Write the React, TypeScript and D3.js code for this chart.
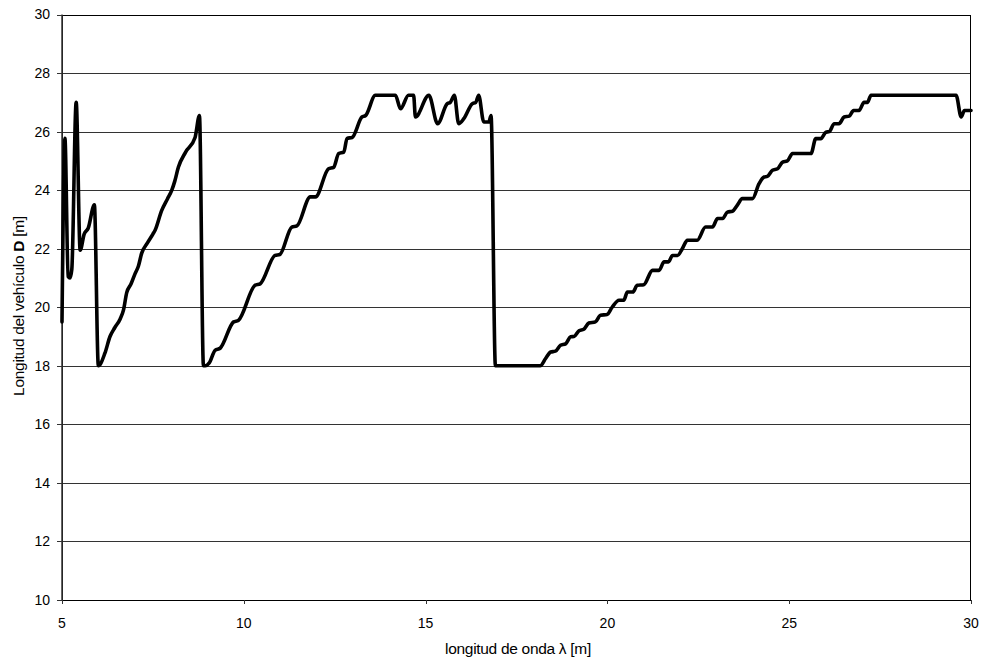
import React from "react";
import * as d3 from "d3";

const lambdaVals: number[] = [
  5.0, 5.08, 5.17, 5.22, 5.27, 5.39, 5.5, 5.61, 5.72, 5.89, 6.0, 6.18, 6.32, 6.45, 6.6, 6.69, 6.78, 6.9, 7.01, 7.1,
  7.19, 7.35, 7.5, 7.56, 7.74, 7.9, 8.02, 8.1, 8.2, 8.4, 8.66, 8.78, 8.89,
  8.94, 9.05, 9.21, 9.35, 9.72, 9.85, 10.31, 10.45, 10.86, 10.99, 11.32, 11.46, 11.83, 11.97, 12.33, 12.47,
  12.61, 12.75, 12.84, 12.98, 13.25, 13.35, 13.62, 14.17, 14.31, 14.53, 14.67, 14.72, 15.09, 15.33, 15.59,
  15.68, 15.79, 15.91, 16.05, 16.28, 16.38, 16.46, 16.6, 16.74, 16.8, 16.92, 18.15, 18.3, 18.44, 18.57, 18.71,
  18.85, 18.99, 19.08, 19.22, 19.35, 19.49, 19.67, 19.81, 19.99, 20.13, 20.32, 20.45, 20.55, 20.7, 20.82, 21.0,
  21.24, 21.42, 21.56, 21.68, 21.79, 21.93, 22.06, 22.2, 22.47, 22.7, 22.89, 23.03, 23.17, 23.3, 23.44, 23.57,
  23.71, 23.99, 24.17, 24.31, 24.4, 24.54, 24.68, 24.82, 24.95, 25.09, 25.6, 25.73, 25.87, 26.01, 26.1, 26.24,
  26.37, 26.51, 26.65, 26.77, 26.92, 27.06, 27.15, 27.25, 29.59, 29.73, 29.82, 30.0,
];

const lengthD: number[] = [
  19.5, 25.77, 21.05, 21.0, 21.3, 27.0, 21.95, 22.5, 22.7, 23.5, 18.0, 18.43, 19.0, 19.3, 19.6, 19.9, 20.5, 20.8, 21.15, 21.4,
  21.84, 22.2, 22.5, 22.63, 23.3, 23.7, 24.0, 24.3, 24.78, 25.3, 25.8, 26.55, 18.0,
  18.0, 18.1, 18.53, 18.6, 19.5, 19.55, 20.75, 20.8, 21.77, 21.8, 22.74, 22.78, 23.77, 23.77, 24.73, 24.78,
  25.25, 25.3, 25.77, 25.8, 26.5, 26.55, 27.24, 27.24, 26.78, 27.24, 27.24, 26.5, 27.24, 26.27, 26.95,
  27.0, 27.24, 26.27, 26.44, 26.95, 27.0, 27.24, 26.33, 26.33, 26.55, 18.0, 18.0, 18.25, 18.47, 18.5, 18.7,
  18.75, 18.99, 19.0, 19.2, 19.25, 19.46, 19.5, 19.73, 19.75, 20.0, 20.24, 20.24, 20.52, 20.52, 20.75, 20.77,
  21.26, 21.26, 21.55, 21.55, 21.77, 21.77, 22.0, 22.29, 22.29, 22.74, 22.74, 23.03, 23.03, 23.25, 23.28, 23.48,
  23.71, 23.71, 24.22, 24.45, 24.47, 24.68, 24.73, 24.96, 25.0, 25.25, 25.25, 25.76, 25.76, 25.98, 26.0, 26.27,
  26.27, 26.5, 26.53, 26.72, 26.72, 27.0, 27.0, 27.24, 27.24, 26.5, 26.72, 26.72,
];

const xTicks: number[] = [5, 10, 15, 20, 25, 30];
const yTicks: number[] = [10, 12, 14, 16, 18, 20, 22, 24, 26, 28, 30];

const W = 981;
const H = 660;
const left = 62;
const right = 971;
const top = 14.5;
const bottom = 600;
const font = "'Liberation Sans', Arial, Helvetica, sans-serif";

export default function App() {
  const x = d3.scaleLinear().domain([5, 30]).range([left, right]);
  const y = d3.scaleLinear().domain([10, 30]).range([bottom, top]);
  const data = lambdaVals.map((l, i) => [l, lengthD[i]] as [number, number]);
  const line = d3
    .line<[number, number]>()
    .x((d) => x(d[0]))
    .y((d) => y(d[1]))
    .curve(d3.curveMonotoneX);

  return (
    <div style={{ position: "absolute", left: 0, top: 0 }}>
      <svg width={W} height={H} style={{ display: "block", background: "#fff" }}>
        {yTicks.map((t) => (
          <line
            key={"g" + t}
            x1={left}
            x2={right}
            y1={Math.round(y(t)) + 0.5}
            y2={Math.round(y(t)) + 0.5}
            stroke="#333"
            strokeWidth={1}
          />
        ))}
        <rect
          x={left + 0.5}
          y={Math.round(top) + 0.5}
          width={right - left - 1}
          height={Math.round(bottom) - Math.round(top)}
          fill="none"
          stroke="#000"
          strokeWidth={1}
        />
        <line x1={left} x2={left} y1={top} y2={bottom} stroke="#333" strokeWidth={1.5} />
        {yTicks.map((t) => (
          <g key={"yt" + t}>
            <line x1={left - 5} x2={left} y1={Math.round(y(t)) + 0.5} y2={Math.round(y(t)) + 0.5} stroke="#333" />
            <text
              x={50}
              y={y(t)}
              dy="0.35em"
              textAnchor="end"
              fontFamily={font}
              fontSize={14}
              fill="#000"
            >
              {t}
            </text>
          </g>
        ))}
        {xTicks.map((t) => (
          <g key={"xt" + t}>
            <line x1={Math.round(x(t)) + 0.5} x2={Math.round(x(t)) + 0.5} y1={bottom} y2={bottom + 4} stroke="#333" />
            <text
              x={x(t)}
              y={628}
              textAnchor="middle"
              fontFamily={font}
              fontSize={14}
              fill="#000"
            >
              {t}
            </text>
          </g>
        ))}
        <path
          d={line(data) || ""}
          fill="none"
          stroke="#000"
          strokeWidth={3.6}
          strokeLinejoin="round"
          strokeLinecap="round"
        />
        <text
          x={518}
          y={654}
          textAnchor="middle"
          fontFamily={font}
          fontSize={15.5}
          fill="#000"
          letterSpacing={-0.3}
        >
          longitud de onda λ [m]
        </text>
        <text
          transform={`translate(24, 306) rotate(-90)`}
          textAnchor="middle"
          fontFamily={font}
          fontSize={15.5}
          fill="#000"
          letterSpacing={-0.3}
        >
          Longitud del vehículo <tspan fontWeight="bold">D</tspan> [m]
        </text>
      </svg>
    </div>
  );
}
